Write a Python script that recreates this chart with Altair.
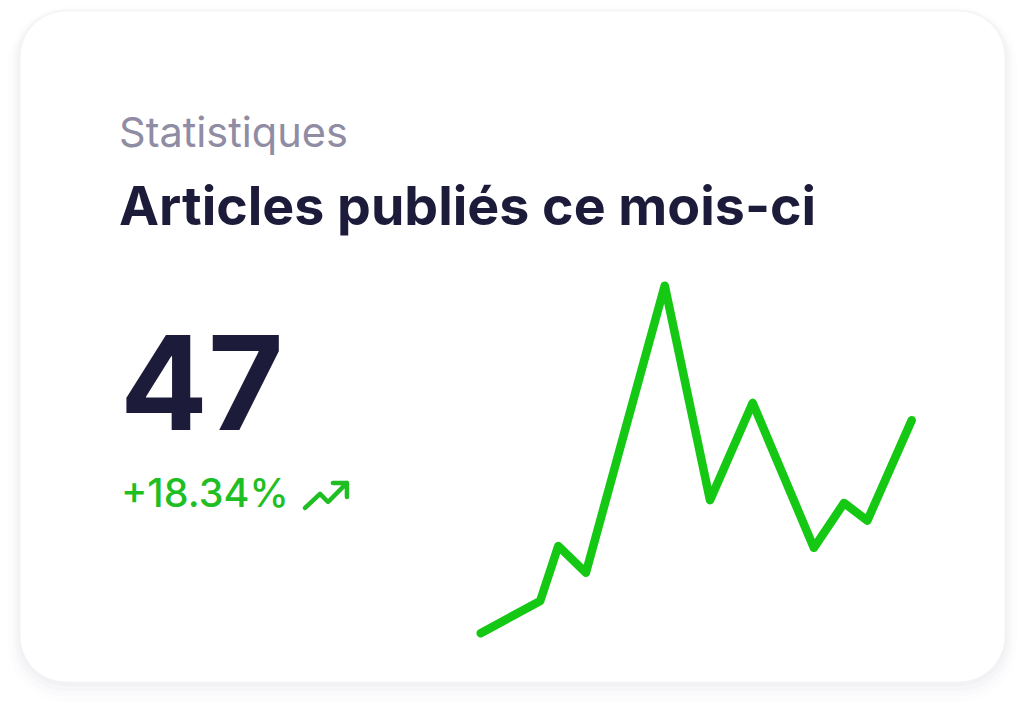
import altair as alt
import pandas as pd

# --- data ---
x_pos = [0, 13.8, 18.0, 24.4, 42.7, 53.2, 63.1, 77.3, 84.3, 89.7, 100]
values = [0, 9.3, 25.1, 17.4, 100, 38.3, 66.3, 24.6, 37.5, 32.4, 61.3]
kicker = ["Statistiques"]
title = ["Articles publiés ce mois-ci"]
big_number = ["47"]
change = ["+18.34%"]

GREEN = "#14c814"
TEXT_GREEN = "#1fbf24"
DARK = "#1d1b3a"
GRAY = "#8f8ca3"
FONT = "Inter"

W, H = 1024, 706
one = pd.DataFrame({"a": [0]})

# card shadow layers
shadow_layers = []
for grow, dy, op in [(12, 8, 0.008), (8, 6, 0.012), (5, 4, 0.016), (2, 2, 0.02)]:
    shadow_layers.append(
        alt.Chart(one).mark_rect(cornerRadius=46 + grow, fill="#1a1a40", opacity=op).encode(
            x=alt.value(20 - grow), x2=alt.value(1005 + grow),
            y=alt.value(11 - grow + dy), y2=alt.value(682 + grow + dy),
        )
    )

card = alt.Chart(one).mark_rect(cornerRadius=46, fill="white", stroke="#f4f4f7", strokeWidth=1).encode(
    x=alt.value(20), x2=alt.value(1005), y=alt.value(11), y2=alt.value(682)
)

def txt(vals, x, y, size, color, weight="normal"):
    return alt.Chart(pd.DataFrame({"t": vals})).mark_text(
        align="left", baseline="alphabetic", font=FONT, fontSize=size,
        fontWeight=weight, color=color,
    ).encode(x=alt.value(x), y=alt.value(y), text="t:N")

t_kicker = txt(kicker, 119, 147, 41.5, GRAY)
t_title = txt(title, 119, 225, 53.7, DARK, "bold")
t_num = txt(big_number, 120, 430, 130, DARK, "bold")
t_change = txt(change, 121, 507, 39.5, TEXT_GREEN, 500)

icon_path = "M-0.91,0.52 L-0.26,-0.09 L0.09,0.26 L0.91,-0.57 M0.30,-0.57 L0.91,-0.57 L0.91,0.04"
icon = alt.Chart(one).mark_point(
    shape=icon_path, size=2116, filled=False, stroke=TEXT_GREEN, strokeWidth=4.5,
    strokeCap="round", strokeJoin="round", opacity=1,
).encode(x=alt.value(326), y=alt.value(496))

df = pd.DataFrame({"x": x_pos, "y": values})
line = alt.Chart(df).mark_line(
    color=GREEN, strokeWidth=8.5, strokeCap="round", strokeJoin="round"
).encode(
    x=alt.X("x:Q", scale=alt.Scale(domain=[0, 100], range=[480.7, 911.7]), axis=None),
    y=alt.Y("y:Q", scale=alt.Scale(domain=[0, 100], range=[633.3, 285.7]), axis=None),
)

chart = alt.layer(*shadow_layers, card, t_kicker, t_title, t_num, t_change, icon, line).properties(
    width=W, height=H, padding=0, autosize=alt.AutoSizeParams(type="none"), background="white"
).configure_view(stroke=None)

chart.save("out.html", embed_options={"renderer": "svg", "actions": False})
